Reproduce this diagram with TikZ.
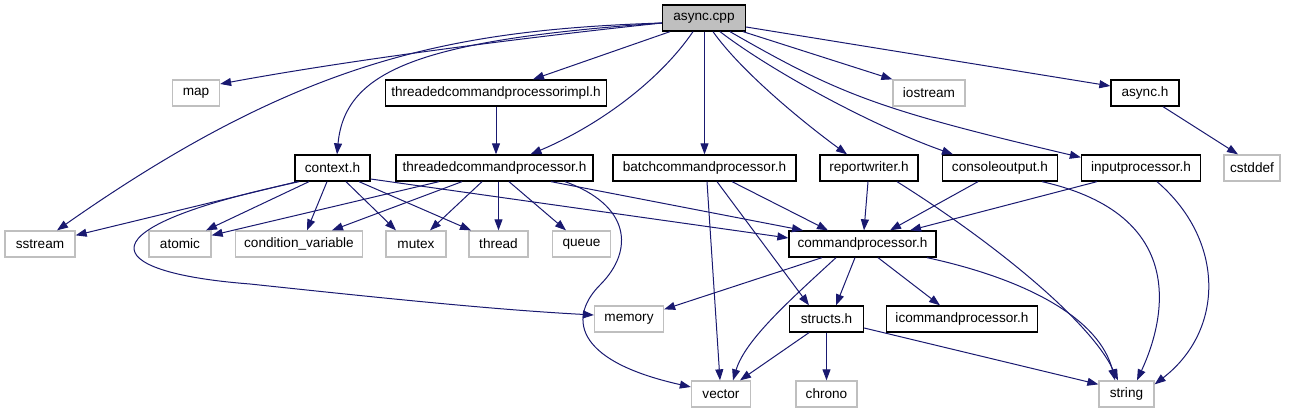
\documentclass[tikz,border=0pt]{standalone}
\usepackage{fontspec}
\setmainfont{Liberation Sans}
\usetikzlibrary{arrows.meta}

\definecolor{edgeblue}{HTML}{191970}
\definecolor{sysgray}{HTML}{BFBFBF}

\tikzset{
    hdr/.style={draw=black, line width=1.3pt, fill=white, minimum height=26, inner sep=0pt,
        font=\fontsize{13.6}{15}\selectfont},
    sys/.style={hdr, draw=sysgray},
    dep/.style={draw=edgeblue, line width=1pt, -{Triangle[length=11pt,width=8pt]}}
}

\begin{document}
\begin{tikzpicture}[x=1pt, y=-1pt]
    \useasboundingbox (0,0) rectangle (1296,411);

    % files
    \node[hdr, fill=sysgray, minimum width=83] (cpp) at (704,18) {async.cpp};

    \node[sys, minimum width=47]  (map)      at (196,93)    {map};
    \node[hdr, minimum width=221] (impl)     at (496,93)    {threadedcommandprocessorimpl.h};
    \node[sys, minimum width=72]  (iostream) at (929,93)    {iostream};
    \node[hdr, minimum width=68]  (asynch)   at (1145,93)   {async.h};

    \node[hdr, minimum width=75]  (context)  at (332.5,168) {context.h};
    \node[hdr, minimum width=197] (tcp)      at (494.5,168) {threadedcommandprocessor.h};
    \node[hdr, minimum width=183] (batch)    at (704.5,168) {batchcommandprocessor.h};
    \node[hdr, minimum width=98]  (report)   at (869,168)   {reportwriter.h};
    \node[hdr, minimum width=115] (console)  at (1000,168)  {consoleoutput.h};
    \node[hdr, minimum width=119] (input)    at (1141,168)  {inputprocessor.h};
    \node[sys, minimum width=56]  (cstddef)  at (1252,168)  {cstddef};

    \node[sys, minimum width=70]  (sstream)  at (40,244)    {sstream};
    \node[sys, minimum width=62]  (atomic)   at (180,244)   {atomic};
    \node[sys, minimum width=127] (condvar)  at (299,244)   {condition\_variable};
    \node[sys, minimum width=60]  (mutex)    at (416,244)   {mutex};
    \node[sys, minimum width=59]  (thread)   at (498.5,244) {thread};
    \node[sys, minimum width=58]  (queue)    at (581.5,244) {queue};
    \node[hdr, minimum width=147] (cmdproc)  at (862.5,244) {commandprocessor.h};

    \node[sys, minimum width=69]  (memory)   at (629,319)   {memory};
    \node[hdr, minimum width=74]  (structs)  at (826.5,319) {structs.h};
    \node[hdr, minimum width=151] (icmd)     at (962,319)   {icommandprocessor.h};

    \node[sys, minimum width=59]  (vector)   at (721,394)   {vector};
    \node[sys, minimum width=61]  (chrono)   at (826.5,394) {chrono};
    \node[sys, minimum width=55]  (string)   at (1126.5,394) {string};

    % async.cpp
    \draw[dep] ([yshift=-5]cpp.west) .. controls (520,38) and (350,60) .. ([yshift=9]map.east);
    \draw[dep] ([yshift=-5]cpp.west) .. controls (450,30) and (300,60) .. ([xshift=17]sstream.north);
    \draw[dep] ([yshift=-5]cpp.west) .. controls (420,40) and (345,70) .. ([xshift=4.5]context.north);
    \draw[dep] ([xshift=-34]cpp.south) -- ([xshift=37]impl.north);
    \draw[dep] ([xshift=-11]cpp.south) .. controls (660,80) and (600,125) .. ([xshift=36]tcp.north);
    \draw[dep] (batch.north |- cpp.south) -- (batch.north);
    \draw[dep] ([xshift=9]cpp.south) .. controls (740,70) and (800,120) .. ([xshift=-22]report.north);
    \draw[dep] ([xshift=16]cpp.south) .. controls (770,70) and (870,125) .. ([xshift=-47]console.north);
    \draw[dep] ([xshift=26]cpp.south) .. controls (840,95) and (880,110) .. ([yshift=-3]input.north west);
    \draw[dep] ([xshift=39]cpp.south) -- (iostream.north west);
    \draw[dep] ([yshift=-9]cpp.east) -- ([yshift=7]asynch.west);

    \draw[dep] ([xshift=18]asynch.south) -- ([xshift=-14]cstddef.north);
    \draw[dep] (impl.south) -- (impl.south |- tcp.north);

    % context.h
    \draw[dep] ([xshift=3]context.south west) -- ([yshift=-5]sstream.north east);
    \draw[dep] ([xshift=5]context.south west) .. controls (80,228) and (95,272) .. (250,284)
        .. controls (400,300) and (500,310) .. ([yshift=4]memory.west);
    \draw[dep] ([xshift=-23.5]context.south) -- ([xshift=26]atomic.north);
    \draw[dep] ([xshift=-5.5]context.south) -- ([xshift=8]condvar.north);
    \draw[dep] ([xshift=13.5]context.south) -- ([xshift=-20]mutex.north);
    \draw[dep] ([xshift=26.5]context.south) -- ([xshift=-27.5]thread.north);
    \draw[dep] ([yshift=-11]context.east) -- ([yshift=6]cmdproc.west);

    % threadedcommandprocessor.h
    \draw[dep] ([xshift=-55.5]tcp.south) -- ([yshift=-5]atomic.north east);
    \draw[dep] ([xshift=-32.5]tcp.south) -- ([xshift=33]condvar.north);
    \draw[dep] ([xshift=-12.5]tcp.south) -- ([xshift=14]mutex.north);
    \draw[dep] (thread.north |- tcp.south) -- (thread.north);
    \draw[dep] ([xshift=14.5]tcp.south) -- ([xshift=-15.5]queue.north);
    \draw[dep] ([xshift=56.5]tcp.south) -- ([xshift=-59.5]cmdproc.north);
    \draw[dep] ([xshift=70.5]tcp.south) .. controls (630,205) and (635,250) .. (600,285)
        .. controls (570,315) and (570,360) .. ([yshift=7]vector.west);

    % batchcommandprocessor.h
    \draw[dep] ([xshift=2.5]batch.south) -- ([xshift=-1]vector.north);
    \draw[dep] ([xshift=12.5]batch.south) -- ([xshift=-17.5]structs.north);
    \draw[dep] ([xshift=27.5]batch.south) -- ([xshift=-34.5]cmdproc.north);

    % reportwriter.h, consoleoutput.h, inputprocessor.h
    \draw[dep] ([xshift=-1]report.south) -- ([xshift=1.5]cmdproc.north);
    \draw[dep] ([xshift=28]report.south) .. controls (990,240) and (1090,320) .. ([xshift=-8.5]string.north);
    \draw[dep] ([xshift=-22]console.south) -- ([xshift=27.5]cmdproc.north);
    \draw[dep] ([xshift=42]console.south) .. controls (1190,215) and (1165,320) .. ([xshift=10.5]string.north);
    \draw[dep] ([xshift=-44]input.south) -- ([xshift=47.5]cmdproc.north);
    \draw[dep] ([xshift=16]input.south) .. controls (1225,240) and (1225,330) .. ([yshift=-4]string.north east);

    % commandprocessor.h
    \draw[dep] ([xshift=-40.5]cmdproc.south) -- ([yshift=-4]memory.north east);
    \draw[dep] ([xshift=-26.5]cmdproc.south) .. controls (790,300) and (745,340) .. ([xshift=12]vector.north);
    \draw[dep] ([xshift=-7.5]cmdproc.south) -- ([xshift=9.5]structs.north);
    \draw[dep] ([xshift=15.5]cmdproc.south) -- ([xshift=-22]icmd.north);
    \draw[dep] ([xshift=64.5]cmdproc.south) .. controls (1030,280) and (1100,320) .. ([xshift=-11.5]string.north);

    % structs.h
    \draw[dep] ([xshift=-17.5]structs.south) -- ([xshift=19]vector.north);
    \draw[dep] (structs.south) -- (structs.south |- chrono.north);
    \draw[dep] ([yshift=-9]structs.east) -- ([yshift=-4]string.north west);
\end{tikzpicture}
\end{document}
